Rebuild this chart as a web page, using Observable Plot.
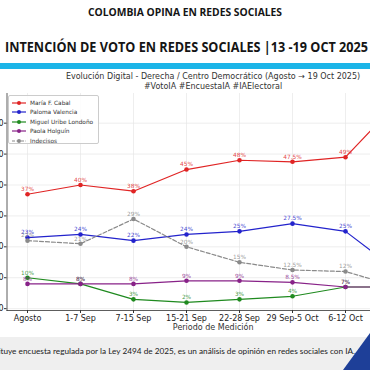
<!DOCTYPE html>
<html><head><meta charset="utf-8">
<script src="https://cdn.jsdelivr.net/npm/d3@7"></script>
<script src="https://cdn.jsdelivr.net/npm/@observablehq/plot@0.6"></script>
<style>
html,body{margin:0;padding:0;width:370px;height:370px;overflow:hidden;background:#fff;}
#wrap{position:relative;width:370px;height:370px;overflow:hidden;background:#fff;}
.title{position:absolute;left:0;white-space:nowrap;font-family:"Open Sans";font-weight:700;color:#151515;transform-origin:0 0;}
#t1{top:5px;font-size:10.5px;}
#t2{top:36px;font-size:14.6px;}
#bar{position:absolute;top:63px;left:0;width:370px;height:6px;background:#1cb5e8;}
#sub{position:absolute;top:72px;left:0;width:426px;text-align:center;font:8px "DejaVu Sans";color:#333;line-height:10px;white-space:nowrap;}
#chart{position:absolute;top:85px;left:0;}
#chart svg{max-width:none !important;}
#legend{position:absolute;top:95px;left:8px;width:89px;height:47px;border:1px solid #ccc;border-radius:2px;background:rgba(255,255,255,0.85);font:5.8px "DejaVu Sans";color:#333;}
.li{position:absolute;left:3px;height:9px;display:flex;align-items:center;white-space:nowrap;}
.li svg{margin-right:4px;}
#foot{position:absolute;top:337px;left:0;width:370px;height:33px;background:#efefef;}
#ftext{position:absolute;right:15px;font-family:"Lato";color:#222;white-space:nowrap;line-height:1;}
#tri{position:absolute;left:343px;top:333px;}
</style></head>
<body><div id="wrap">
<div id="t1" class="title"></div>
<div id="t2" class="title"></div>
<div id="bar"></div>
<div id="sub"></div>
<div id="chart"></div>
<div id="legend"></div>
<div id="foot"></div>
<div id="ftext"></div>
<svg id="tri" width="27" height="37"><polygon points="27,0 0,37 27,37" fill="#1e3f98"/></svg>
</div>
<script>
const title1 = "COLOMBIA OPINA EN REDES SOCIALES";
const title2 = "INTENCIÓN DE VOTO EN REDES SOCIALES |13 -19 OCT 2025";
const subtitle1 = "Evolución Digital - Derecha / Centro Democrático (Agosto → 19 Oct 2025)";
const subtitle2 = "#VotoIA #EncuestaIA #IAElectoral";
const xLabel = "Periodo de Medición";
const footerHead = "Este estudio no consti";
const footerTail = "tuye encuesta regulada por la Ley 2494 de 2025, es un análisis de opinión en redes sociales con IA.";

const periods = ["Agosto","1-7 Sep","7-15 Sep","15-21 Sep","22-28 Sep","29 Sep-5 Oct","6-12 Oct","13-19 Oct"];
const seriesNames = ["María F. Cabal","Paloma Valencia","Miguel Uribe Londoño","Paola Holguín","Indecisos"];
const seriesColors = ["#e02424","#2323cc","#1f8a1f","#882288","#8a8a8a"];
const cabal = [37,40,38,45,48,47.5,49,67];
const valencia = [23,24,22,24,25,27.5,25,12];
const uribe = [10,8,3,2,3,4,7,7];
const holguin = [8,8,8,9,9,8.5,7,7];
const indecisos = [22,21,29,20,15,12.5,12,7];
const yTicks = [0,10,20,30,40,50,60];

function fitTitle(id, text, x0, x1) {
  const el = document.getElementById(id);
  el.textContent = text;
  const w = el.getBoundingClientRect().width;
  const s = (x1 - x0) / w;
  el.style.left = x0 + "px";
  el.style.transform = `scaleX(${s})`;
}
fitTitle("t1", title1, 88, 282);
fitTitle("t2", title2, 5, 368);
document.getElementById("sub").innerHTML = subtitle1 + "<br>" + subtitle2;

// footer: tail visible from x=0 to x=355
const ft = document.getElementById("ftext");
ft.style.fontSize = "10px";
ft.textContent = footerTail;
const tw = ft.getBoundingClientRect().width;
const fs = 10 * 355 / tw;
ft.style.fontSize = fs + "px";
ft.textContent = footerHead + footerTail;
ft.style.top = (352 - fs * 0.55) + "px";

const allSeries = [cabal, valencia, uribe, holguin, indecisos];
const data = [];
allSeries.forEach((vals, si) => vals.forEach((v, i) => data.push({period: periods[i], value: v, series: seriesNames[si], label: v + "%"})));

const marks = [
  Plot.gridX({stroke:"#e6e6e6", strokeOpacity:1, strokeWidth:0.7}),
  Plot.gridY(yTicks, {stroke:"#e6e6e6", strokeOpacity:1, strokeWidth:0.7}),
  Plot.frame({anchor:"left", stroke:"#333", strokeWidth:0.8}),
  Plot.frame({anchor:"bottom", stroke:"#333", strokeWidth:0.8}),
  Plot.axisY(yTicks, {tickSize:2.5, tickPadding:1, fontSize:8, fill:"#222", stroke:"#333"}),
  Plot.axisX({tickSize:3, tickPadding:2, fontSize:8, fill:"#222", stroke:"#333"}),
  Plot.text([xLabel], {frameAnchor:"bottom", lineAnchor:"middle", dy:17, fontSize:8, fill:"#333"})
];
seriesNames.forEach((name, si) => {
  const d = data.filter(r => r.series === name);
  const c = seriesColors[si];
  marks.push(Plot.line(d, {x:"period", y:"value", stroke:c, strokeWidth:1.2, strokeDasharray: name === "Indecisos" ? "4,2" : null}));
  marks.push(Plot.dot(d, {x:"period", y:"value", fill:c, r:2.3}));
  marks.push(Plot.text(d, {x:"period", y:"value", text:"label", fill:c, fillOpacity:0.85, fontSize:5.8, dy:-5}));
});

const chart = Plot.plot({
  width: 425, height: 250,
  marginTop: 8, marginBottom: 25, marginLeft: 6.5, marginRight: 6.2,
  style: {fontFamily:"DejaVu Sans", fontSize:"8px", overflow:"visible", background:"transparent", maxWidth:"none"},
  x: {type:"point", domain: periods, padding:0.35, label:null},
  y: {domain:[-0.6, 69.6], label:null},
  marks
});
document.getElementById("chart").appendChild(chart);

const leg = document.getElementById("legend");
seriesNames.forEach((name, si) => {
  const c = seriesColors[si];
  const div = document.createElement("div");
  div.className = "li";
  div.style.top = (2 + si * 9.5) + "px";
  div.innerHTML = `<svg width="14" height="6"><line x1="0" x2="14" y1="3" y2="3" stroke="${c}" stroke-width="1.2" ${name==="Indecisos"?'stroke-dasharray="3,1.5"':''}/><circle cx="7" cy="3" r="2" fill="${c}"/></svg>`;
  const s = document.createElement("span");
  s.textContent = name;
  div.appendChild(s);
  leg.appendChild(div);
});
</script>
</body></html>
